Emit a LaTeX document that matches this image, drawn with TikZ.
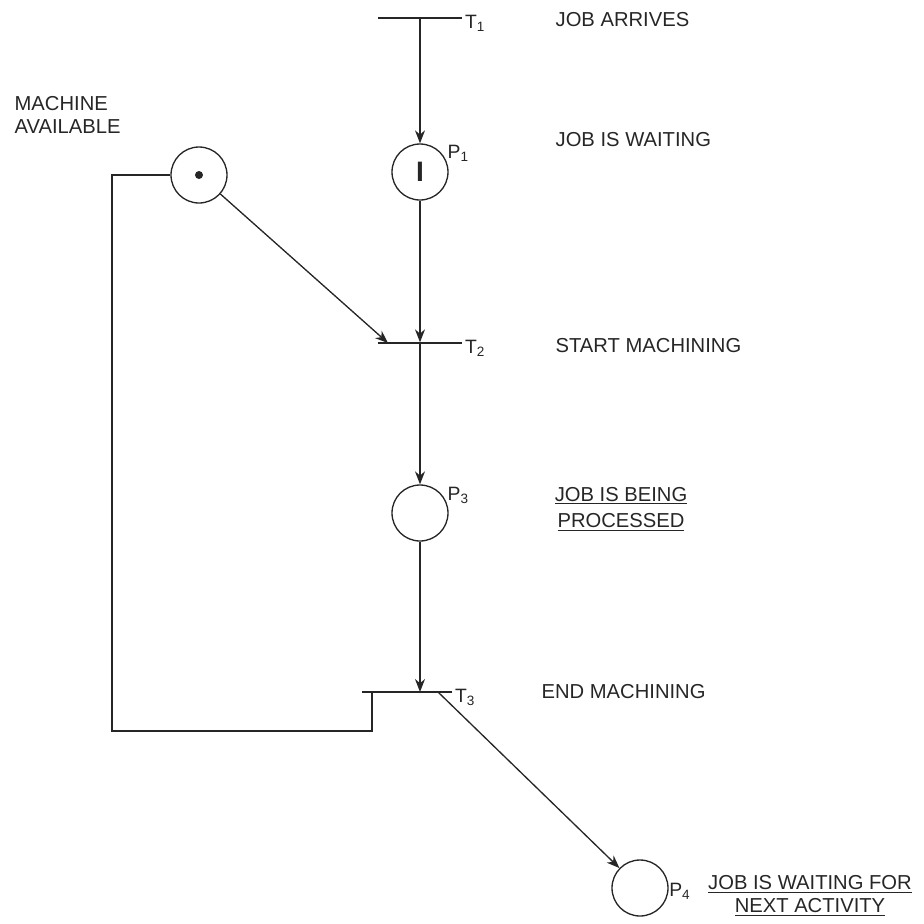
\documentclass[tikz,border=0pt]{standalone}
\usepackage{fontspec}
\setmainfont{Liberation Sans}
\usetikzlibrary{arrows.meta,positioning}

\begin{document}
\begin{tikzpicture}[
  x=0.02cm, y=-0.02cm,
  color=black!85, line width=0.75pt,
  place/.style={circle, draw, minimum size=1.12cm, inner sep=0pt},
  trans/.style={draw, minimum width=1.68cm, minimum height=0pt, inner sep=0pt},
  ar/.style={-{Stealth[length=2.6mm,width=2mm]}},
  lbl/.style={font=\fontsize{11.5}{13}\selectfont, inner sep=0pt, anchor=west, align=left},
  sub/.style={font=\fontsize{11}{13}\selectfont, inner sep=0pt, anchor=west}
]
\useasboundingbox (0,0) rectangle (924,924);

% places and transitions
\node[trans] (t1) at (420,18) {};
\node[place] (p1) at (420,172) {\fontsize{16}{16}\selectfont\bfseries I};
\node[place] (m) at (199,175) {};
\fill (m.center) circle (4);
\node[trans] (t2) at (420,343) {};
\node[place] (p3) at (420,513) {};
\node[trans, minimum width=1.8cm] (t3) at (407,692) {};
\node[place] (p4) at (640,888) {};

\node[sub, right=1pt of t1.east, yshift=-3pt] (t1l) {T\textsubscript{1}};
\node[sub] (p1l) at (447,153) {P\textsubscript{1}};
\node[sub, right=1pt of t2.east, yshift=-3pt] (t2l) {T\textsubscript{2}};
\node[sub] (p3l) at (447,495) {P\textsubscript{3}};
\node[sub, right=1pt of t3.east, yshift=-3pt] (t3l) {T\textsubscript{3}};
\node[sub, right=0pt of p4.east, yshift=-2pt] (p4l) {P\textsubscript{4}};

% labels
\node[lbl, anchor=north west] (avail) at (14,96) {MACHINE\\AVAILABLE};
\node[lbl] (arrives) at (555,20) {JOB ARRIVES};
\node[lbl] (waiting) at (555,140) {JOB IS WAITING};
\node[lbl] (start) at (555,346) {START MACHINING};
\node[lbl, anchor=center, align=center, font=\fontsize{11.5}{15}\selectfont] (proc) at (621,509)
  {\underline{JOB IS BEING}\\\underline{PROCESSED}};
\node[lbl] (endm) at (541,692) {END MACHINING};
\node[lbl, anchor=center, align=center] (next) at (810,896)
  {\underline{JOB IS WAITING FOR}\\\underline{NEXT ACTIVITY}};

% arcs
\coordinate (t2in) at (388,343);
\coordinate (t3in) at (372,692);
\coordinate (t3out) at (438,692);
\coordinate (corner) at (112,731);

\draw[ar] (t1) -- (p1);
\draw[ar] (p1) -- (t2);
\draw[ar] (m) -- (t2in);
\draw[ar] (t2) -- (p3);
\draw[ar] (p3) -- (p3 |- t3);
\draw[ar] (t3out) -- (p4);
\draw (m.west) -| (corner) -| (t3in);
\end{tikzpicture}
\end{document}
